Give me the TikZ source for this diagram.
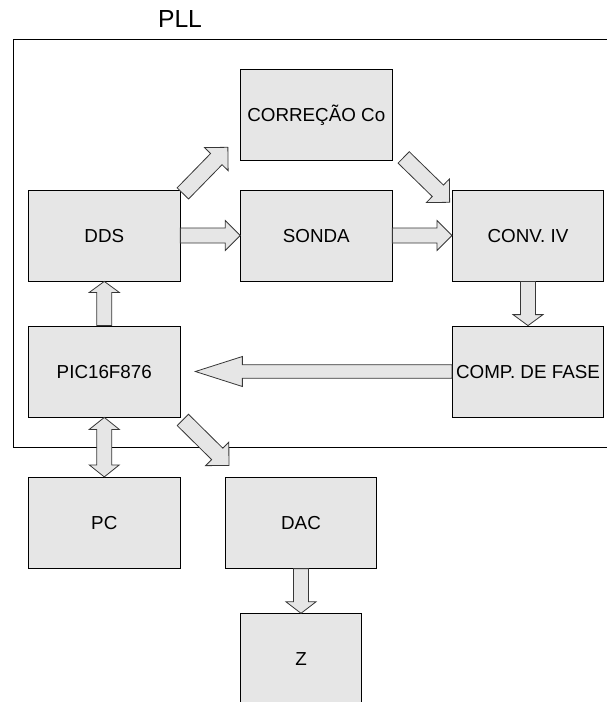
\documentclass[tikz,border=0pt]{standalone}
\usepackage{fontspec}
\setmainfont{Liberation Sans}
\usetikzlibrary{calc}
\definecolor{boxgray}{RGB}{230,230,230}
\definecolor{edgegray}{RGB}{55,55,55}

\begin{document}
\begin{tikzpicture}[x=1pt, y=-1pt,
    box/.style={rectangle, draw=black, fill=boxgray, line width=0.8pt, inner sep=0pt, minimum width=151.3pt, minimum height=91pt, text height=13.4pt, text depth=0pt, font=\fontsize{18.8}{22}\selectfont},
    frame/.style={draw=black, line width=0.8pt},
    ba shaft/.initial=7.5pt,
    ba head/.initial=15pt,
    ba len/.initial=15pt,
    blockarrow/.style={draw=edgegray, fill=boxgray, line width=0.8pt, line join=miter,
      to path={let \p1=(\tikztostart), \p2=(\tikztotarget),
        \p3=($(\p2)!\pgfkeysvalueof{/tikz/ba len}!(\p1)$) in
        ($(\p1)!\pgfkeysvalueof{/tikz/ba shaft}!90:(\p2)$)
        -- ($(\p3)!\pgfkeysvalueof{/tikz/ba shaft}!90:(\p2)$)
        -- ($(\p3)!\pgfkeysvalueof{/tikz/ba head}!90:(\p2)$)
        -- (\p2)
        -- ($(\p3)!\pgfkeysvalueof{/tikz/ba head}!-90:(\p2)$)
        -- ($(\p3)!\pgfkeysvalueof{/tikz/ba shaft}!-90:(\p2)$)
        -- ($(\p1)!\pgfkeysvalueof{/tikz/ba shaft}!-90:(\p2)$) -- cycle}},
    dblblockarrow/.style={draw=edgegray, fill=boxgray, line width=0.8pt, line join=miter,
      to path={let \p1=(\tikztostart), \p2=(\tikztotarget),
        \p3=($(\p2)!\pgfkeysvalueof{/tikz/ba len}!(\p1)$),
        \p4=($(\p1)!\pgfkeysvalueof{/tikz/ba len}!(\p2)$) in
        ($(\p4)!\pgfkeysvalueof{/tikz/ba shaft}!90:(\p2)$)
        -- ($(\p3)!\pgfkeysvalueof{/tikz/ba shaft}!90:(\p2)$)
        -- ($(\p3)!\pgfkeysvalueof{/tikz/ba head}!90:(\p2)$)
        -- (\p2)
        -- ($(\p3)!\pgfkeysvalueof{/tikz/ba head}!-90:(\p2)$)
        -- ($(\p3)!\pgfkeysvalueof{/tikz/ba shaft}!-90:(\p2)$)
        -- ($(\p4)!\pgfkeysvalueof{/tikz/ba shaft}!-90:(\p2)$)
        -- ($(\p4)!\pgfkeysvalueof{/tikz/ba head}!-90:(\p2)$)
        -- (\p1)
        -- ($(\p4)!\pgfkeysvalueof{/tikz/ba head}!90:(\p2)$) -- cycle}},
    diag/.style={ba shaft=8pt, ba head=16.5pt, ba len=16.5pt}
]
\useasboundingbox (0,0) rectangle (607,702);

\draw[frame] (13.3,39) rectangle (620,447);
\node[font=\fontsize{24.7}{28}\selectfont] (pll) at (180,19) {PLL};

\node[box] (corr) at (316.3,114.7) {CORREÇÃO Co};
\node[box] (dds) at (104.3,235.5) {DDS};
\node[box] (sonda) at (316.3,235.5) {SONDA};
\node[box] (conv) at (528,235.5) {CONV. IV};
\node[box] (pic) at (104.3,371.5) {PIC16F876};
\node[box] (comp) at (528,371.5) {COMP. DE FASE};
\node[box] (pc) at (104.3,522.8) {PC};
\node[box] (dac) at (301,522.7) {DAC};
\node[box, minimum width=120.6pt] (z) at (301,659.2) {Z};

\draw[blockarrow] (dds.east) to (sonda.west);
\draw[blockarrow] (sonda.east) to (conv.west);
\draw[blockarrow, diag] ($(dds.north east)+(2.5,3.8)$) to ($(corr.south west)+(-12.4,-13.3)$);
\draw[blockarrow, diag] ($(corr.south east)+(11.3,-3.2)$) to ($(conv.north west)+(-2.3,12.7)$);
\draw[blockarrow, ba len=11pt] (conv.south) to (comp.north);
\draw[blockarrow, ba shaft=6.8pt, ba len=47pt] (comp.west) to ($(pic.east)+(15,0)$);
\draw[blockarrow, ba len=11pt] (pic.north) to (dds.south);
\draw[dblblockarrow, ba len=12pt] (pic.south) to (pc.north);
\draw[blockarrow, diag] ($(pic.south east)+(2.5,2.5)$) to ($(dac.north west)+(4,-11.3)$);
\draw[blockarrow, ba len=11.5pt] (dac.south) to (z.north);
\end{tikzpicture}
\end{document}
